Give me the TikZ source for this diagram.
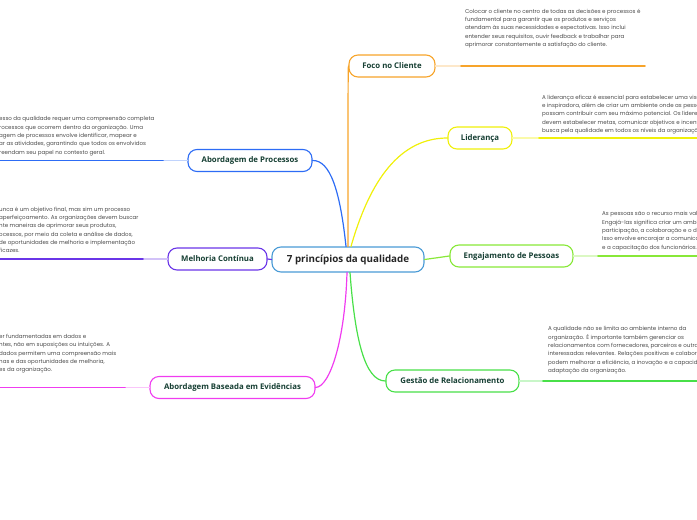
\documentclass[tikz,border=0pt]{standalone}
\usepackage{fontspec}
\setmainfont{Open Sans}
\newfontfamily\notefont{Poppins}
\usetikzlibrary{positioning}
\definecolor{mmtext}{HTML}{163F33}
\definecolor{mmgray}{HTML}{4A4A4A}
\definecolor{mmroot}{HTML}{4A9BD6}
\definecolor{mmorange}{HTML}{F7A42A}
\definecolor{mmyellow}{HTML}{F0F00A}
\definecolor{mmlime}{HTML}{88E838}
\definecolor{mmgreen}{HTML}{48E048}
\definecolor{mmblue}{HTML}{2D6CF5}
\definecolor{mmpurple}{HTML}{6A35E8}
\definecolor{mmpink}{HTML}{F03CF0}

\begin{document}
\begin{tikzpicture}[x=1pt,y=-1pt,line cap=round,
 root/.style={draw=mmroot,fill=white,rounded corners=9pt,line width=1.1pt,minimum width=152pt,minimum height=25pt,font=\fontsize{9.8}{11}\selectfont\bfseries,text=black!85},
 topic/.style={draw,fill=white,rounded corners=9pt,line width=1.1pt,minimum height=22pt,inner xsep=5pt,font=\fontsize{7.8}{9}\selectfont\bfseries,text=mmtext},
 note/.style={font=\notefont\fontsize{5.55}{8.35}\selectfont,text=mmgray,align=left,inner sep=0pt},
 link/.style={line width=1.2pt},
 stem/.style={line width=1.3pt},
 bar/.style={line width=1.8pt}]
\useasboundingbox (0,0) rectangle (697,520);
\clip (0,0) rectangle (697,520);

% centre et branches
\node[root](root) at (348,259.5){7 princípios da qualidade};
\node[topic,draw=mmorange,minimum width=86pt](foco) at (392,66){Foco no Cliente};
\node[topic,draw=mmyellow,minimum width=64pt](lid) at (480,138){Liderança};
\node[topic,draw=mmlime,minimum width=123pt](eng) at (511.5,256){Engajamento de Pessoas};
\node[topic,draw=mmgreen,minimum width=133pt](rel) at (452.5,381){Gestão de Relacionamento};
\node[topic,draw=mmblue,minimum width=124pt](proc) at (250,160.5){Abordagem de Processos};
\node[topic,draw=mmpurple,minimum width=99pt](melh) at (217.5,259){Melhoria Contínua};
\node[topic,draw=mmpink,minimum width=165pt](evid) at (232.5,387.5){Abordagem Baseada em Evidências};

% ligações
\draw[link,mmorange](root.north)..controls (348,120) and (348,66)..(foco.west);
\draw[link,mmyellow]([xshift=3pt]root.north)..controls (370,180) and (400,138)..(lid.west);
\draw[link,mmlime](root.east)--(eng.west);
\draw[link,mmgreen]([xshift=2pt]root.south)..controls (355,340) and (365,381)..(rel.west);
\draw[link,mmblue]([xshift=-2pt]root.north)..controls (340,190) and (330,160)..(proc.east);
\draw[link,mmpurple](root.west)--(melh.east);
\draw[link,mmpink]([xshift=-1pt]root.south)..controls (345,340) and (330,387)..(evid.east);

% notas
\node[note,anchor=north west](nfoco) at (465,8.5){Colocar o cliente no centro de todas as decisões e processos é\\fundamental para garantir que os produtos e serviços\\atendam às suas necessidades e expectativas. Isso inclui\\entender seus requisitos, ouvir feedback e trabalhar para\\aprimorar constantemente a satisfação do cliente.};
\node[note,anchor=north west](nlid) at (542,94.5){A liderança eficaz é essencial para estabelecer uma visão clara\\e inspiradora, além de criar um ambiente onde as pessoas\\possam contribuir com seu máximo potencial. Os líderes\\devem estabelecer metas, comunicar objetivos e incentivar a\\busca pela qualidade em todos os níveis da organização.};
\node[note,anchor=north west](neng) at (602,211.5){As pessoas são o recurso mais valioso\\Engajá-las significa criar um ambiente\\participação, a colaboração e o desenvolvimento\\Isso envolve encorajar a comunicação\\e a capacitação dos funcionários.};
\node[note,anchor=north west](nrel) at (548,326.5){A qualidade não se limita ao ambiente interno da\\organização. É importante também gerenciar os\\relacionamentos com fornecedores, parceiros e outras partes\\interessadas relevantes. Relações positivas e colaborativas\\podem melhorar a eficiência, a inovação e a capacidade de\\adaptação da organização.};
\node[note,anchor=north west](nproc) at (-1,116.5){esso da qualidade requer uma compreensão completa\\rocessos que ocorrem dentro da organização. Uma\\agem de processos envolve identificar, mapear e\\ar as atividades, garantindo que todos os envolvidos\\reendam seu papel no contexto geral.};
\node[note,anchor=north west](nmelh) at (-1,206.5){unca é um objetivo final, mas sim um processo\\aperfeiçoamento. As organizações devem buscar\\nte maneiras de aprimorar seus produtos,\\ocessos, por meio da coleta e análise de dados,\\de oportunidades de melhoria e implementação\\ficazes.};
\node[note,anchor=north west](nevid) at (-1,334){er fundamentadas em dados e\\ntes, não em suposições ou intuições. A\\dados permitem uma compreensão mais\\nas e das oportunidades de melhoria,\\es da organização.};

% traços das notas
\coordinate (foco-a) at (461,66); \coordinate (foco-b) at (645,66);
\coordinate (lid-a) at (539,138); \coordinate (lid-b) at (697,138);
\coordinate (eng-a) at (598,256); \coordinate (eng-b) at (697,256);
\coordinate (rel-a) at (543,381); \coordinate (rel-b) at (697,381);
\coordinate (proc-a) at (163,160.5); \coordinate (proc-b) at (0,160.5);
\coordinate (melh-a) at (143,259); \coordinate (melh-b) at (0,259);
\coordinate (evid-a) at (125,387.5); \coordinate (evid-b) at (0,387.5);
\draw[stem,mmorange!25](foco.east)--(foco-a); \draw[bar,mmorange](foco-a)--(foco-b);
\draw[stem,mmyellow!35](lid.east)--(lid-a); \draw[bar,mmyellow](lid-a)--(lid-b);
\draw[stem,mmlime!30](eng.east)--(eng-a); \draw[bar,mmlime](eng-a)--(eng-b);
\draw[stem,mmgreen!30](rel.east)--(rel-a); \draw[bar,mmgreen](rel-a)--(rel-b);
\draw[stem,mmblue!30](proc.west)--(proc-a); \draw[bar,mmblue](proc-a)--(proc-b);
\draw[stem,mmpurple!30](melh.west)--(melh-a); \draw[bar,mmpurple](melh-a)--(melh-b);
\draw[stem,mmpink!30](evid.west)--(evid-a); \draw[bar,mmpink](evid-a)--(evid-b);
\end{tikzpicture}
\end{document}
